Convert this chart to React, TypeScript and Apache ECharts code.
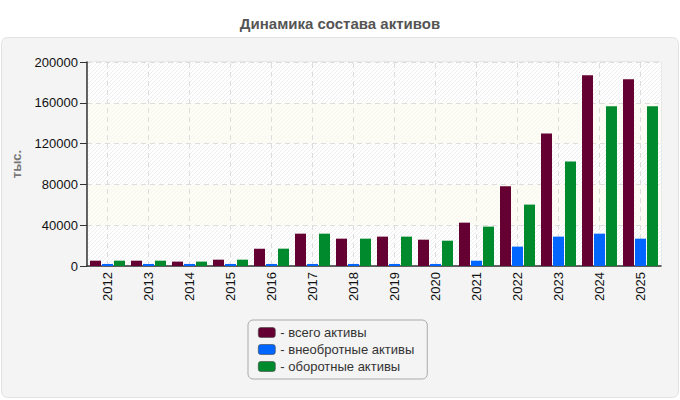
import React, { useEffect, useRef } from "react";
import * as echarts from "echarts";

const years = ["2012", "2013", "2014", "2015", "2016", "2017", "2018", "2019", "2020", "2021", "2022", "2023", "2024", "2025"];
const totalAssets = [5200, 5200, 4300, 6200, 17000, 31700, 26800, 28800, 25800, 42500, 78200, 130000, 187000, 183000];
const fixedAssets = [2000, 2000, 2000, 2000, 2000, 2000, 2000, 2000, 2000, 5200, 19000, 28800, 31700, 26800];
const currentAssets = [5200, 5200, 4300, 6200, 17000, 31700, 26800, 28800, 24800, 38600, 60200, 102500, 156500, 156500];
const seriesNames = ["всего активы", "внеобротные активы", "оборотные активы"];
const seriesColors = ["#650032", "#0066ff", "#008a2e"];

function hatchCanvas(bg: string, line: string): HTMLCanvasElement {
  const c = document.createElement("canvas");
  c.width = 4;
  c.height = 4;
  const ctx = c.getContext("2d")!;
  ctx.fillStyle = bg;
  ctx.fillRect(0, 0, 4, 4);
  ctx.strokeStyle = line;
  ctx.lineWidth = 1;
  ctx.beginPath();
  ctx.moveTo(-1, 5);
  ctx.lineTo(5, -1);
  ctx.moveTo(-1, 1);
  ctx.lineTo(1, -1);
  ctx.moveTo(3, 5);
  ctx.lineTo(5, 3);
  ctx.stroke();
  return c;
}

export default function App() {
  const ref = useRef<HTMLDivElement>(null);

  useEffect(() => {
    if (!ref.current) return;
    const chart = echarts.init(ref.current, undefined, { renderer: "svg" });
    const grayHatch = { image: hatchCanvas("#ffffff", "#eeeeee"), repeat: "repeat" };
    const yellowHatch = { image: hatchCanvas("#fdfdf6", "#f7f7ef"), repeat: "repeat" };

    const mkSeries = (i: number, data: number[]) => ({
      name: seriesNames[i],
      type: "bar",
      data,
      barWidth: 11,
      barGap: "9%",
      z: 3,
      itemStyle: { color: seriesColors[i] },
    });

    chart.setOption({
      animation: false,
      textStyle: { fontFamily: "Liberation Sans, Arial, sans-serif" },
      title: {
        text: "Динамика состава активов",
        left: "center",
        top: 11,
        textStyle: { fontSize: 15, fontWeight: "bold", color: "#555555" },
      },
      graphic: [
        {
          type: "rect",
          z: -10,
          shape: { x: 1.5, y: 37.5, width: 677, height: 360, r: 6 },
          style: { fill: "#f4f4f4", stroke: "#e2e2e2", lineWidth: 1 },
        },
      ],
      grid: {
        left: 87,
        right: 19,
        top: 62,
        bottom: 134,
        show: true,
        borderColor: "#dddddd",
        borderWidth: 1,
        backgroundColor: "#ffffff",
      },
      legend: {
        orient: "vertical",
        left: 248,
        top: 320,
        itemWidth: 17,
        itemHeight: 10,
        itemGap: 4,
        padding: [6, 13, 6, 10],
        borderColor: "#aaaaaa",
        borderWidth: 1,
        borderRadius: 5,
        backgroundColor: "#f4f4f4",
        icon: "roundRect",
        formatter: "- {name}",
        textStyle: { fontSize: 13, color: "#333333" },
        data: seriesNames.map((n, i) => ({
          name: n,
          itemStyle: { color: seriesColors[i], borderColor: "#444444", borderWidth: 0.6 },
        })),
      },
      xAxis: {
        type: "category",
        data: years,
        axisLine: { lineStyle: { color: "#333333", width: 1.5 } },
        axisTick: { alignWithLabel: true, length: 5, lineStyle: { color: "#333333" } },
        axisLabel: { rotate: 90, fontSize: 13, color: "#111111", margin: 6 },
        splitLine: { show: false },
      },
      yAxis: {
        type: "value",
        min: 0,
        max: 200000,
        interval: 40000,
        name: "тыс.",
        nameLocation: "middle",
        nameGap: 64,
        nameTextStyle: { fontSize: 13, fontWeight: "bold", color: "#777777" },
        axisLine: { show: true, lineStyle: { color: "#333333", width: 1.5 } },
        axisTick: { show: true, length: 7, lineStyle: { color: "#333333" } },
        axisLabel: { fontSize: 13, color: "#111111", margin: 9, formatter: (v: number) => String(v) },
        splitLine: { show: true, lineStyle: { color: "#dddddd", type: [5, 4] } },
        splitArea: {
          show: true,
          areaStyle: { color: [grayHatch, yellowHatch] },
        },
      },
      series: [
        // vertical dashed guides through each category centre, behind the bars
        {
          name: "guides",
          type: "line",
          data: [],
          z: 1,
          silent: true,
          markLine: {
            silent: true,
            z: 1,
            symbol: "none",
            label: { show: false },
            lineStyle: { color: "#dddddd", type: [5, 4], width: 1 },
            data: years.map((y) => ({ xAxis: y })),
          },
        },
        mkSeries(0, totalAssets),
        mkSeries(1, fixedAssets),
        mkSeries(2, currentAssets),
      ],
    });
    return () => chart.dispose();
  }, []);

  return (
    <div
      ref={ref}
      style={{ position: "fixed", left: 0, top: 0, width: 680, height: 400, background: "#ffffff" }}
    />
  );
}
